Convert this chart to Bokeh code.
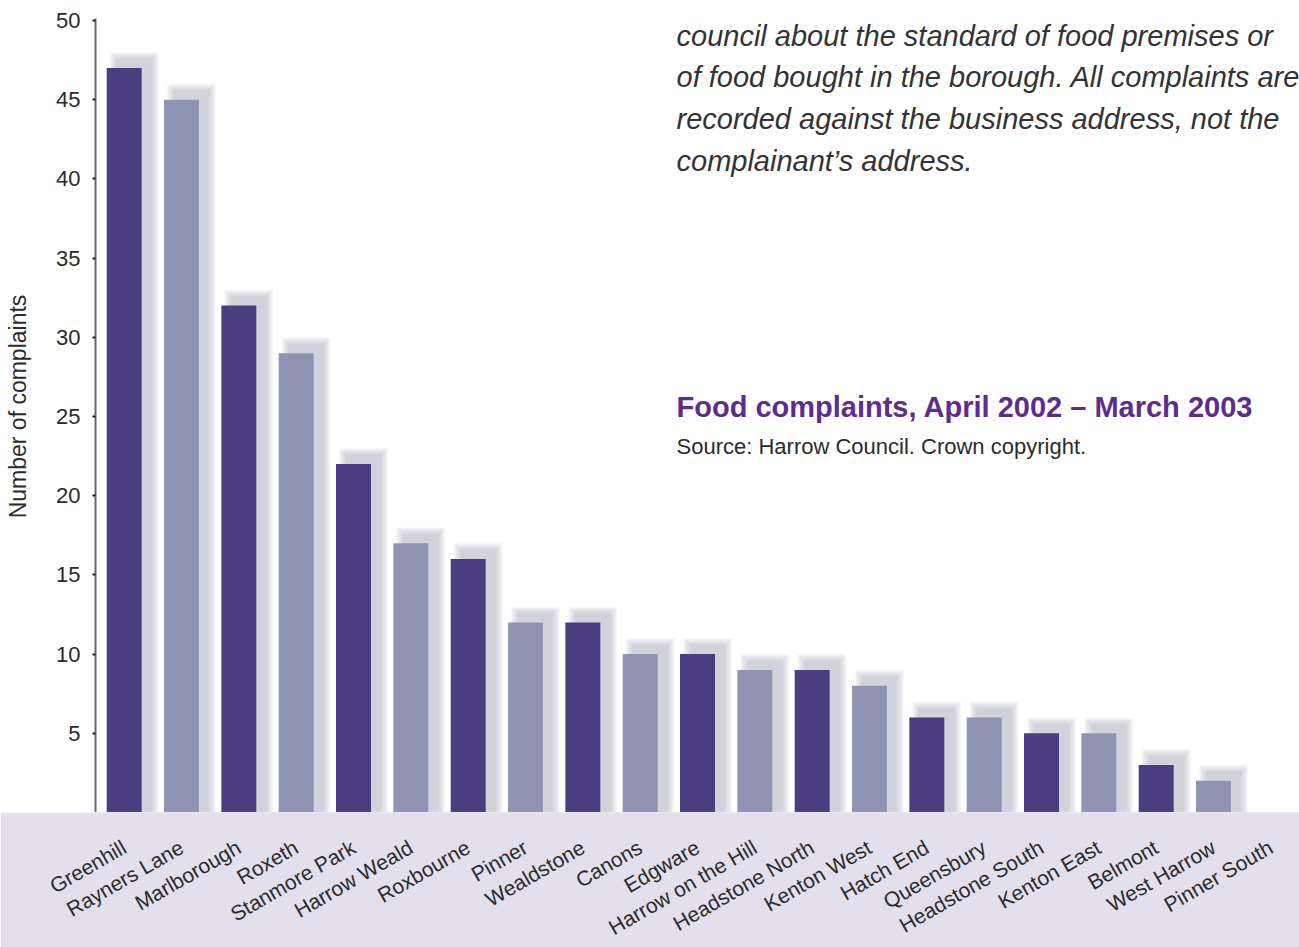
import math
from bokeh.plotting import figure
from bokeh.models import (FactorRange, Range1d, FixedTicker, ColumnDataSource, Label)
from bokeh.transform import dodge
from bokeh.layouts import column
from bokeh.embed import file_html
from bokeh.resources import INLINE

# ---------------- data ----------------
wards = ["Greenhill", "Rayners Lane", "Marlborough", "Roxeth", "Stanmore Park",
         "Harrow Weald", "Roxbourne", "Pinner", "Wealdstone", "Canons", "Edgware",
         "Harrow on the Hill", "Headstone North", "Kenton West", "Hatch End",
         "Queensbury", "Headstone South", "Kenton East", "Belmont", "West Harrow",
         "Pinner South"]
complaints = [47, 45, 32, 29, 22, 17, 16, 12, 12, 10, 10, 9, 9, 8, 6, 6, 5, 5, 3, 2, 0]
y_ticks = [5, 10, 15, 20, 25, 30, 35, 40, 45, 50]

title_text = "Food complaints, April 2002 \u2013 March 2003"
source_text = "Source: Harrow Council. Crown copyright."
para_lines = [
    "council about the standard of food premises or",
    "of food bought in the borough. All complaints are",
    "recorded against the business address, not the",
    "complainant\u2019s address.",
]
y_label = "Number of complaints"

# ---------------- style ----------------
DARK = "#4a3d80"
LIGHT = "#9094b3"
BAND = "#e3dfed"
TXT = "#2b2b2b"
PURPLE = "#5b2d8e"
FONT = "Liberation Sans"

LEFT = 95
FRAME_W = 1299 - LEFT
FRAME_H = 812
BAND_H = 135
Y_TOP = 50 * FRAME_H / (FRAME_H - 20)
PX_X = FRAME_W / len(wards)
PX_Y = FRAME_H / Y_TOP

def xs(page_x):
    return (page_x - LEFT) / PX_X

def ys(page_y):
    return (FRAME_H - page_y) / PX_Y

colors = [DARK if i % 2 == 0 else LIGHT for i in range(len(wards))]
src = ColumnDataSource(dict(ward=wards, val=complaints, color=colors))

x_range = FactorRange(*wards, range_padding=0, factor_padding=0)

p = figure(x_range=x_range, y_range=Range1d(0, Y_TOP),
           frame_width=FRAME_W, frame_height=FRAME_H,
           min_border_left=LEFT, min_border_right=0, min_border_top=0, min_border_bottom=0,
           x_axis_location=None, output_backend="svg", toolbar_location=None,
           background_fill_color="white", border_fill_color="white")
p.outline_line_color = None
p.grid.visible = False

# shadows (blurred look with stacked translucent bars)
sh_w = [w for w, v in zip(wards, complaints) if v > 0]
sh_v = [v for v in complaints if v > 0]
off_x = 10 / PX_X
off_y = 9 / PX_Y
N_LAYERS = 9
for k in range(N_LAYERS):
    e = 7 * (1 - k / (N_LAYERS - 1))
    ssrc = ColumnDataSource(dict(ward=sh_w, top=[v + off_y + e / PX_Y for v in sh_v]))
    p.vbar(x=dodge("ward", off_x, range=x_range), top="top", bottom=0,
           width=0.61 + 2 * e / PX_X, source=ssrc, fill_color="#a6a6ae",
           fill_alpha=0.065, line_color=None)

p.vbar(x="ward", top="val", bottom=0, width=0.61, source=src,
       fill_color="color", line_color=None)

ya = p.yaxis[0]
ya.ticker = FixedTicker(ticks=y_ticks)
ya.bounds = (0, 50.15)
ya.axis_line_color = "#6a6a6a"
ya.axis_line_width = 2
ya.major_tick_line_color = "#222222"
ya.major_tick_line_width = 2
ya.major_tick_out = 3
ya.major_tick_in = 0
ya.minor_tick_line_color = None
ya.major_label_standoff = 12
ya.major_label_text_font = FONT
ya.major_label_text_font_size = "22px"
ya.major_label_text_color = TXT
ya.axis_label = y_label
ya.axis_label_text_font = FONT
ya.axis_label_text_font_size = "23px"
ya.axis_label_text_font_style = "normal"
ya.axis_label_text_color = TXT
ya.axis_label_standoff = 22

TX = 676
for i, line in enumerate(para_lines):
    p.add_layout(Label(x=xs(TX), y=ys(35 + i * 41.7), text=line,
                       text_font=FONT, text_font_style="italic",
                       text_font_size="29px", text_color="#333333",
                       text_baseline="alphabetic", text_align="left"))

p.add_layout(Label(x=xs(TX), y=ys(406), text=title_text, text_font=FONT,
                   text_font_style="bold", text_font_size="29px",
                   text_color=PURPLE, text_baseline="alphabetic"))
p.add_layout(Label(x=xs(TX), y=ys(446), text=source_text, text_font=FONT,
                   text_font_size="22px", text_color=TXT,
                   text_baseline="alphabetic"))

# bottom band with category labels (axis of the shared categorical range)
p2 = figure(x_range=x_range, y_range=Range1d(0, 1),
            width=LEFT + FRAME_W, height=BAND_H,
            min_border_left=LEFT, min_border_right=0, min_border_top=0, min_border_bottom=0,
            y_axis_location=None, output_backend="svg", toolbar_location=None,
            background_fill_color=BAND, border_fill_color=BAND)
p2.outline_line_color = None
p2.grid.visible = False
xa = p2.xaxis[0]
xa.axis_line_color = None
xa.major_tick_line_color = None
xa.major_tick_out = 0
xa.major_tick_in = 0
xa.minor_tick_line_color = None
xa.major_label_orientation = math.pi / 6
xa.major_label_standoff = 33
xa.major_label_text_font = FONT
xa.major_label_text_font_size = "21px"
xa.major_label_text_color = TXT

layout = column(p, p2, spacing=0)

open("out.html", "w").write(file_html(layout, INLINE))
